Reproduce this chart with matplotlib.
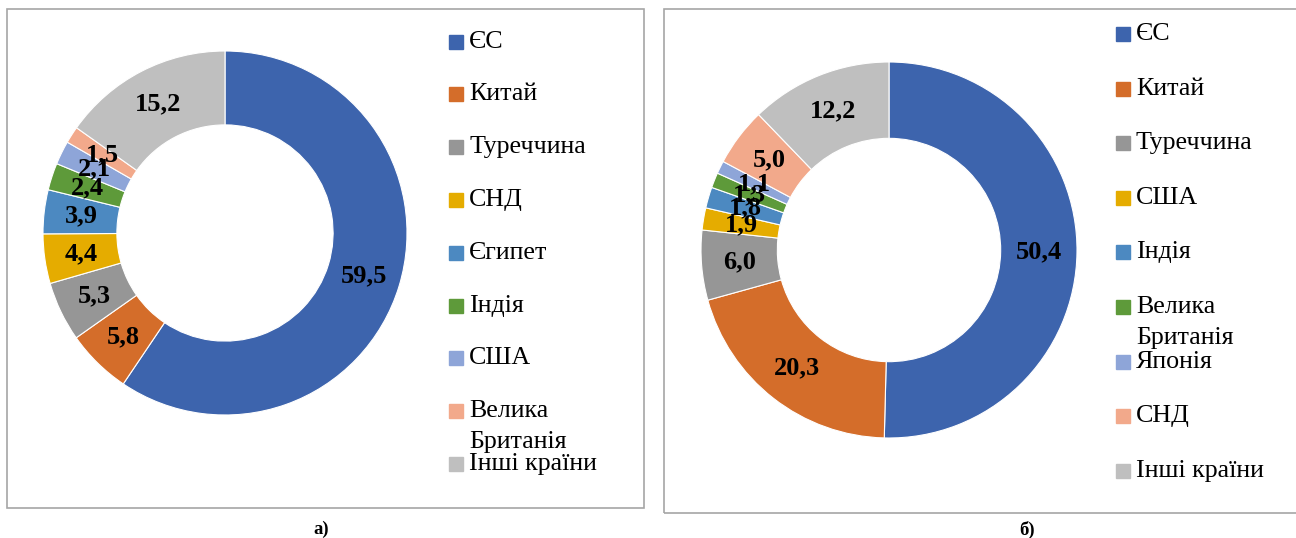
import numpy as np
import matplotlib.pyplot as plt
from matplotlib.patches import Rectangle

plt.rcParams['font.family'] = ['Liberation Serif', 'DejaVu Serif']

# Data
labels_a = ['ЄС', 'Китай', 'Туреччина', 'СНД', 'Єгипет', 'Індія', 'США',
            'Велика\nБританія', 'Інші країни']
values_a = [59.5, 5.8, 5.3, 4.4, 3.9, 2.4, 2.1, 1.5, 15.2]

labels_b = ['ЄС', 'Китай', 'Туреччина', 'США', 'Індія', 'Велика\nБританія',
            'Японія', 'СНД', 'Інші країни']
values_b = [50.4, 20.3, 6.0, 1.9, 1.8, 1.3, 1.1, 5.0, 12.2]

colors_a = ['#3D64AD', '#D46D2A', '#969696', '#E5AC00', '#4C89C1',
            '#5E9A3A', '#8EA5D8', '#F2A98B', '#BFBFBF']
colors_b = ['#3D64AD', '#D46D2A', '#969696', '#E5AC00', '#4C89C1',
            '#5E9A3A', '#8EA5D8', '#F2A98B', '#BFBFBF']

W, H = 1296, 538
fig = plt.figure(figsize=(W / 100, H / 100), dpi=100)


def px_axes(cx, cy, r):
    return fig.add_axes([(cx - r) / W, (H - cy - r) / H, 2 * r / W, 2 * r / H])


def frame(x0, y0, x1, y1):
    fig.patches.append(Rectangle((x0 / W, 1 - y1 / H), (x1 - x0) / W, (y1 - y0) / H,
                                 transform=fig.transFigure, fill=False,
                                 edgecolor='#A6A6A6', linewidth=1.2))


def donut(cx, cy, r, values, colors):
    ax = px_axes(cx, cy, r)
    width = 0.406
    wedges, texts = ax.pie(values, colors=colors, startangle=90, counterclock=False,
                           radius=1, wedgeprops=dict(width=width, edgecolor='white',
                                                     linewidth=0.8))
    # labels in the middle of the ring
    for w, v in zip(wedges, values):
        ang = np.deg2rad((w.theta1 + w.theta2) / 2)
        rr = 1 - width / 2
        ax.text(rr * np.cos(ang), rr * np.sin(ang), f'{v:.1f}'.replace('.', ','),
                ha='center', va='center', fontsize=19, fontweight='bold')
    ax.set_xlim(-1, 1)
    ax.set_ylim(-1, 1)
    ax.set_aspect('equal')
    ax.axis('off')


def legend(x_sq, y_first, step, labels, colors):
    for i, (lab, c) in enumerate(zip(labels, colors)):
        y = y_first + i * step
        fig.patches.append(Rectangle((x_sq / W, 1 - (y + 7) / H), 14 / W, 14 / H,
                                     transform=fig.transFigure, color=c))
        lines = lab.split('\n')
        for j, ln in enumerate(lines):
            fig.text((x_sq + 20) / W, 1 - (y + 31 * j) / H, ln, fontsize=18.7,
                     ha='left', va='center', color='black')


frame(7, 9, 644, 508)
frame(664, 9, 1300, 513)

donut(225, 233, 182, values_a, colors_a)
donut(889, 250, 188, values_b, colors_b)

legend(449, 41.6, 52.8, labels_a, colors_a)
legend(1116, 34, 54.6, labels_b, colors_b)

fig.text(321 / W, 1 - 529 / H, 'а)', fontsize=13.5, fontweight='bold', ha='center', va='center')
fig.text(1027 / W, 1 - 530 / H, 'б)', fontsize=13.5, fontweight='bold', ha='center', va='center')

fig.savefig('out.png', dpi=100)
